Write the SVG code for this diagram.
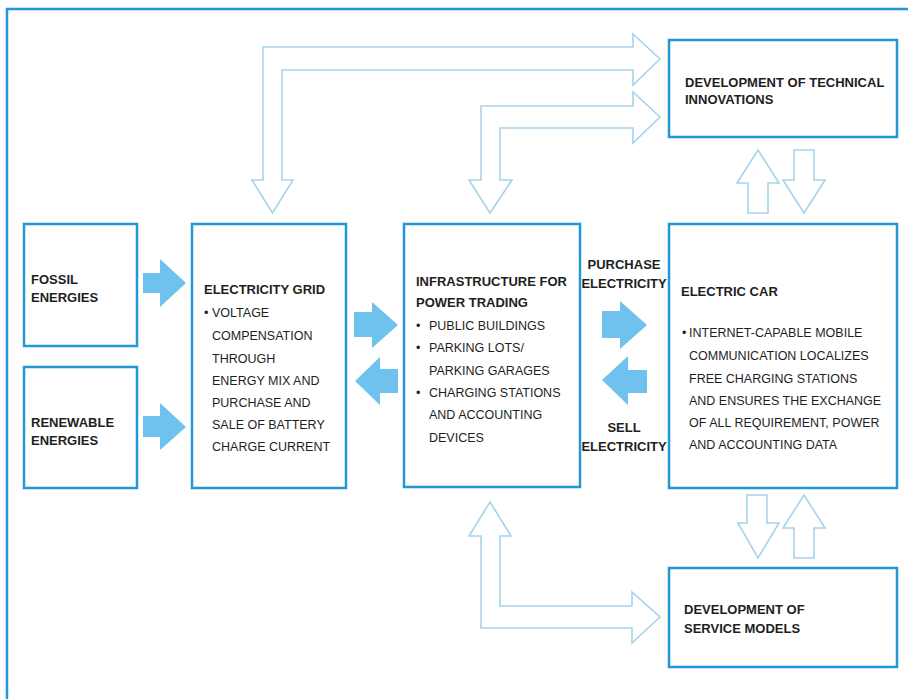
<svg xmlns="http://www.w3.org/2000/svg" width="908" height="699" viewBox="0 0 908 699">
<style>
.box{fill:#fff;stroke:#2497d6;stroke-width:2.5}
.frame{fill:none;stroke:#2497d6;stroke-width:2.5}
.fa{fill:#6ec2ed;stroke:none}
.ha{fill:#fff;stroke:#a6d3ec;stroke-width:1.6;stroke-linejoin:miter}
text{font-family:"Liberation Sans",Arial,sans-serif;fill:#1e1e1e}
.h{font-size:13px;font-weight:bold}
.b{font-size:12.5px}
.lbl{font-size:13px;font-weight:bold;text-anchor:middle}
</style>
<rect x="0" y="0" width="908" height="699" fill="#fff"/>
<path class="frame" d="M7,699 V9 H908"/>

<g id="connectors">
  <polygon class="ha" points="263,180 252,180 272.5,213 293,180 282,180 282,70 633,70 633,85 660,59 633,34 633,47 263,47"/>
  <polygon class="ha" points="481,180 469,180 490,213 512,180 500,180 500,128 633,128 633,143 660,117 633,92 633,106 481,106"/>
  <polygon class="ha" points="758,150 779,183 768,183 768,213 748,213 748,183 737,183"/>
  <polygon class="ha" points="794,150 814,150 814,180 825,180 804,213 783,180 794,180"/>
  <polygon class="ha" points="747,495 767,495 767,523 779,523 758,558 738,523 747,523"/>
  <polygon class="ha" points="804,495 825,528 814,528 814,558 794,558 794,528 783,528"/>
  <polygon class="ha" points="490,502 511,536 500,536 500,606 632,606 632,592 660,617 632,643 632,628 481,628 481,536 469,536"/>
  <polygon class="fa" points="143,273 160,273 160,259 186,283 160,307 160,293 143,293"/>
  <polygon class="fa" points="143,416 160,416 160,403 186,427 160,450 160,437 143,437"/>
  <polygon class="fa" points="354,312 372,312 372,302 398,325 372,348 372,337 354,337"/>
  <polygon class="fa" points="398,369 380,369 380,357 355,381 380,405 380,393 398,393"/>
  <polygon class="fa" points="602,311 620,311 620,301 647,325 620,349 620,338 602,338"/>
  <polygon class="fa" points="647,370 628,370 628,356 602,380 628,405 628,393 647,393"/>
  <text class="lbl" x="624" y="269">PURCHASE</text>
  <text class="lbl" x="624" y="288">ELECTRICITY</text>
  <text class="lbl" x="624" y="432">SELL</text>
  <text class="lbl" x="624" y="451">ELECTRICITY</text>
</g>

<g id="fossil">
  <rect class="box" x="24" y="224" width="113" height="122"/>
  <text class="h" x="31" y="284">FOSSIL</text>
  <text class="h" x="31" y="302">ENERGIES</text>
</g>
<g id="renewable">
  <rect class="box" x="24" y="367" width="113" height="121"/>
  <text class="h" x="31" y="427">RENEWABLE</text>
  <text class="h" x="31" y="445">ENERGIES</text>
</g>
<g id="grid">
  <rect class="box" x="192" y="224" width="154" height="264"/>
  <text class="h" x="204" y="294">ELECTRICITY GRID</text>
  <text class="b" x="204" y="317">•</text>
  <text class="b" x="212" y="317">VOLTAGE</text>
  <text class="b" x="212" y="340">COMPENSATION</text>
  <text class="b" x="212" y="363">THROUGH</text>
  <text class="b" x="212" y="385">ENERGY MIX AND</text>
  <text class="b" x="212" y="407">PURCHASE AND</text>
  <text class="b" x="212" y="429">SALE OF BATTERY</text>
  <text class="b" x="212" y="451">CHARGE CURRENT</text>
</g>
<g id="infrastructure">
  <rect class="box" x="404" y="224" width="176" height="263"/>
  <text class="h" x="416" y="286">INFRASTRUCTURE FOR</text>
  <text class="h" x="416" y="307">POWER TRADING</text>
  <text class="b" x="416" y="330">•</text>
  <text class="b" x="429" y="330">PUBLIC BUILDINGS</text>
  <text class="b" x="416" y="352">•</text>
  <text class="b" x="429" y="352">PARKING LOTS/</text>
  <text class="b" x="429" y="375">PARKING GARAGES</text>
  <text class="b" x="416" y="397">•</text>
  <text class="b" x="429" y="397">CHARGING STATIONS</text>
  <text class="b" x="429" y="419">AND ACCOUNTING</text>
  <text class="b" x="429" y="442">DEVICES</text>
</g>
<g id="car">
  <rect class="box" x="669" y="224" width="228" height="264"/>
  <text class="h" x="681" y="296">ELECTRIC CAR</text>
  <text class="b" x="682" y="337">•</text>
  <text class="b" x="689" y="337">INTERNET-CAPABLE MOBILE</text>
  <text class="b" x="689" y="360">COMMUNICATION LOCALIZES</text>
  <text class="b" x="689" y="383">FREE CHARGING STATIONS</text>
  <text class="b" x="689" y="405">AND ENSURES THE EXCHANGE</text>
  <text class="b" x="689" y="427">OF ALL REQUIREMENT, POWER</text>
  <text class="b" x="689" y="449">AND ACCOUNTING DATA</text>
</g>
<g id="innovations">
  <rect class="box" x="669" y="40" width="228" height="97"/>
  <text class="h" x="685" y="87">DEVELOPMENT OF TECHNICAL</text>
  <text class="h" x="685" y="104">INNOVATIONS</text>
</g>
<g id="service">
  <rect class="box" x="669" y="568" width="228" height="99"/>
  <text class="h" x="684" y="614">DEVELOPMENT OF</text>
  <text class="h" x="684" y="633">SERVICE MODELS</text>
</g>
</svg>
